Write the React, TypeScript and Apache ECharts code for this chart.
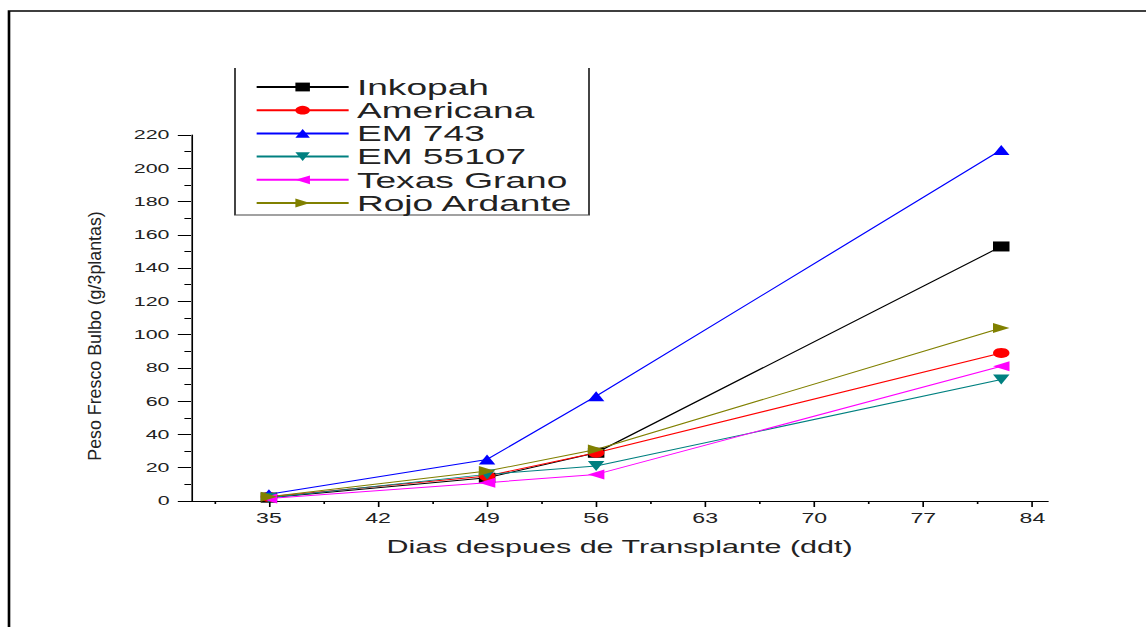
import React, { useEffect, useRef } from "react";
import * as echarts from "echarts";

// The reference picture is stretched horizontally; the chart is drawn in an
// unstretched frame and widened with a CSS scaleX.
const S = 1.65;
const W = 1146;
const H = 627;
const FONT = "'Liberation Sans', Arial, sans-serif";

const days = [35, 49, 56, 82];
const inkopah = [2, 14, 29, 153];
const americana = [2.5, 15, 29, 89];
const em743 = [4, 25, 63, 211];
const em55107 = [2, 16, 21, 73];
const texasGrano = [1.5, 11, 16, 81];
const rojoArdante = [2.5, 18, 31, 104];

const xTicks = [35, 42, 49, 56, 63, 70, 77, 84];
const xMinorTicks = [31.5, 38.5, 45.5, 52.5, 59.5, 66.5, 73.5, 80.5];

const seriesDefs = [
  { name: "Inkopah", values: inkopah, color: "#000000", symbol: "rect", rotate: 0 },
  { name: "Americana", values: americana, color: "#ff0000", symbol: "circle", rotate: 0 },
  { name: "EM 743", values: em743, color: "#0000ff", symbol: "triangle", rotate: 0 },
  { name: "EM 55107", values: em55107, color: "#008080", symbol: "triangle", rotate: 180 },
  { name: "Texas Grano", values: texasGrano, color: "#ff00ff", symbol: "triangle", rotate: 90 },
  { name: "Rojo Ardante", values: rojoArdante, color: "#808000", symbol: "triangle", rotate: -90 },
];

const lx = (px: number) => px / S;

const gridBox = { left: lx(191), top: 135, width: lx(1048) - lx(191), height: 366 };

const option: any = {
  animation: false,
  backgroundColor: "#ffffff",
  textStyle: { fontFamily: FONT },
  grid: [
    { ...gridBox, containLabel: false },
    { ...gridBox, containLabel: false },
  ],
  legend: {
    data: seriesDefs.map((s) => s.name),
    orient: "vertical",
    left: lx(255),
    top: 75.4,
    itemWidth: lx(347) - lx(255),
    itemHeight: 11,
    itemGap: 0,
    padding: 0,
    selectedMode: false,
    textStyle: { fontSize: 22.5, lineHeight: 23.2, color: "#222", fontFamily: FONT },
  },
  xAxis: [
    {
      type: "value",
      gridIndex: 0,
      min: 30,
      max: 85,
      axisLine: { show: true, lineStyle: { color: "#000", width: 1 } },
      axisTick: { show: true, length: 6, customValues: xTicks, lineStyle: { color: "#000" } },
      axisLabel: { customValues: xTicks, margin: 10, fontSize: 14, color: "#222", fontFamily: FONT },
      splitLine: { show: false },
      name: "Dias despues de Transplante (ddt)",
      nameLocation: "middle",
      nameGap: 36,
      nameTextStyle: { fontSize: 18.5, color: "#222", fontFamily: FONT },
    },
    {
      type: "value",
      gridIndex: 1,
      min: 30,
      max: 85,
      position: "bottom",
      axisLine: { show: false },
      axisTick: { show: true, length: 3, customValues: xMinorTicks, lineStyle: { color: "#000" } },
      axisLabel: { show: false },
      splitLine: { show: false },
    },
  ],
  yAxis: [
    {
      type: "value",
      gridIndex: 0,
      min: 0,
      max: 220,
      interval: 20,
      axisLine: { show: true, lineStyle: { color: "#000", width: 1 } },
      axisTick: { show: true, length: 8, lineStyle: { color: "#000" } },
      minorTick: { show: true, splitNumber: 2, length: 4, lineStyle: { color: "#000" } },
      axisLabel: { margin: 13, fontSize: 13, color: "#222", fontFamily: FONT },
      splitLine: { show: false },
    },
    {
      type: "value",
      gridIndex: 1,
      min: 0,
      max: 220,
      show: false,
    },
  ],
  graphic: [
    {
      type: "rect",
      silent: true,
      shape: { x: lx(9), y: 11, width: 2000, height: 2000 },
      style: { fill: "none", stroke: "#000", lineWidth: 1.6 },
    },
    {
      type: "polyline",
      silent: true,
      shape: {
        points: [
          [lx(235), 68],
          [lx(235), 215],
          [lx(589), 215],
          [lx(589), 68],
        ],
      },
      style: { fill: "none", stroke: "#444", lineWidth: 1.2 },
    },
    {
      type: "text",
      silent: true,
      x: lx(95),
      y: 336,
      rotation: Math.PI / 2,
      scaleX: 1.65,
      style: {
        text: "Peso Fresco Bulbo (g/3plantas)",
        fontSize: 10.8,
        fontFamily: FONT,
        fill: "#222",
        align: "center",
        verticalAlign: "middle",
      },
    },
  ],
  series: seriesDefs.map((s) => ({
    name: s.name,
    type: "line",
    xAxisIndex: 0,
    yAxisIndex: 0,
    data: days.map((d, i) => [d, s.values[i]]),
    symbol: s.symbol,
    symbolSize: 10,
    symbolRotate: s.rotate,
    showSymbol: true,
    lineStyle: { width: 1, color: s.color },
    itemStyle: { color: s.color },
  })),
};

export default function App() {
  const ref = useRef<HTMLDivElement>(null);
  useEffect(() => {
    if (!ref.current) return;
    const chart = echarts.init(ref.current, undefined, { renderer: "svg" });
    chart.setOption(option);
    return () => chart.dispose();
  }, []);
  return (
    <div
      style={{
        position: "absolute",
        left: 0,
        top: 0,
        width: W,
        height: H,
        overflow: "hidden",
        background: "#fff",
      }}
    >
      <div
        ref={ref}
        style={{ width: W / S, height: H, transform: `scaleX(${S})`, transformOrigin: "0 0" }}
      />
    </div>
  );
}
